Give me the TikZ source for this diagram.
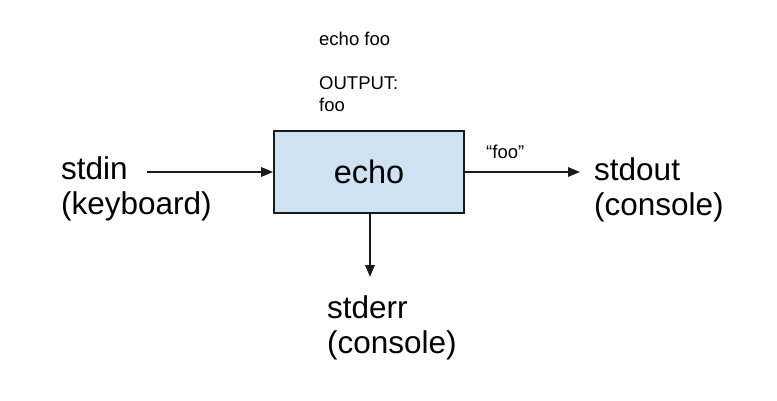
\documentclass[tikz,border=0pt]{standalone}
\usepackage{fontspec}
\setmainfont{Liberation Sans}
\usetikzlibrary{arrows.meta}
\definecolor{boxfill}{HTML}{CFE2F3}
\definecolor{ink}{HTML}{1A1A1A}
\begin{document}
\begin{tikzpicture}[x=1pt,y=1pt,
  big/.style={font=\fontsize{31.5}{35}\selectfont, align=left, anchor=base west, inner sep=0pt},
  small/.style={font=\fontsize{18.5}{21}\selectfont, align=left, anchor=base west, inner sep=0pt},
  conn/.style={draw=ink, line width=1.6pt, -{Triangle[length=12pt,width=9.5pt]}}]
\useasboundingbox (0,0) rectangle (777,400);
\node[draw=ink, line width=1.8pt, fill=boxfill, minimum width=190pt, minimum height=82pt,
  inner sep=0pt, font=\fontsize{32.5}{36}\selectfont] (echo) at (369,228) {echo};
\node[big] (stdin) at (61,186) {stdin\\(keyboard)};
\node[big] (stdout) at (594,185) {stdout\\(console)};
\node[big] (stderr) at (327,47) {stderr\\(console)};
\node[small] (cmd) at (319,289) {echo foo\\[23pt]OUTPUT:\\foo};
\node[small] (foo) at (486,242) {“foo”};
\coordinate (inL) at (147,228);
\coordinate (outR) at (580,228);
\coordinate (errB) at (370,123);
\draw[conn] (inL) -- (echo.west);
\draw[conn] (echo.east) -- (outR);
\draw[conn] (echo.south -| errB) -- (errB);
\end{tikzpicture}
\end{document}
